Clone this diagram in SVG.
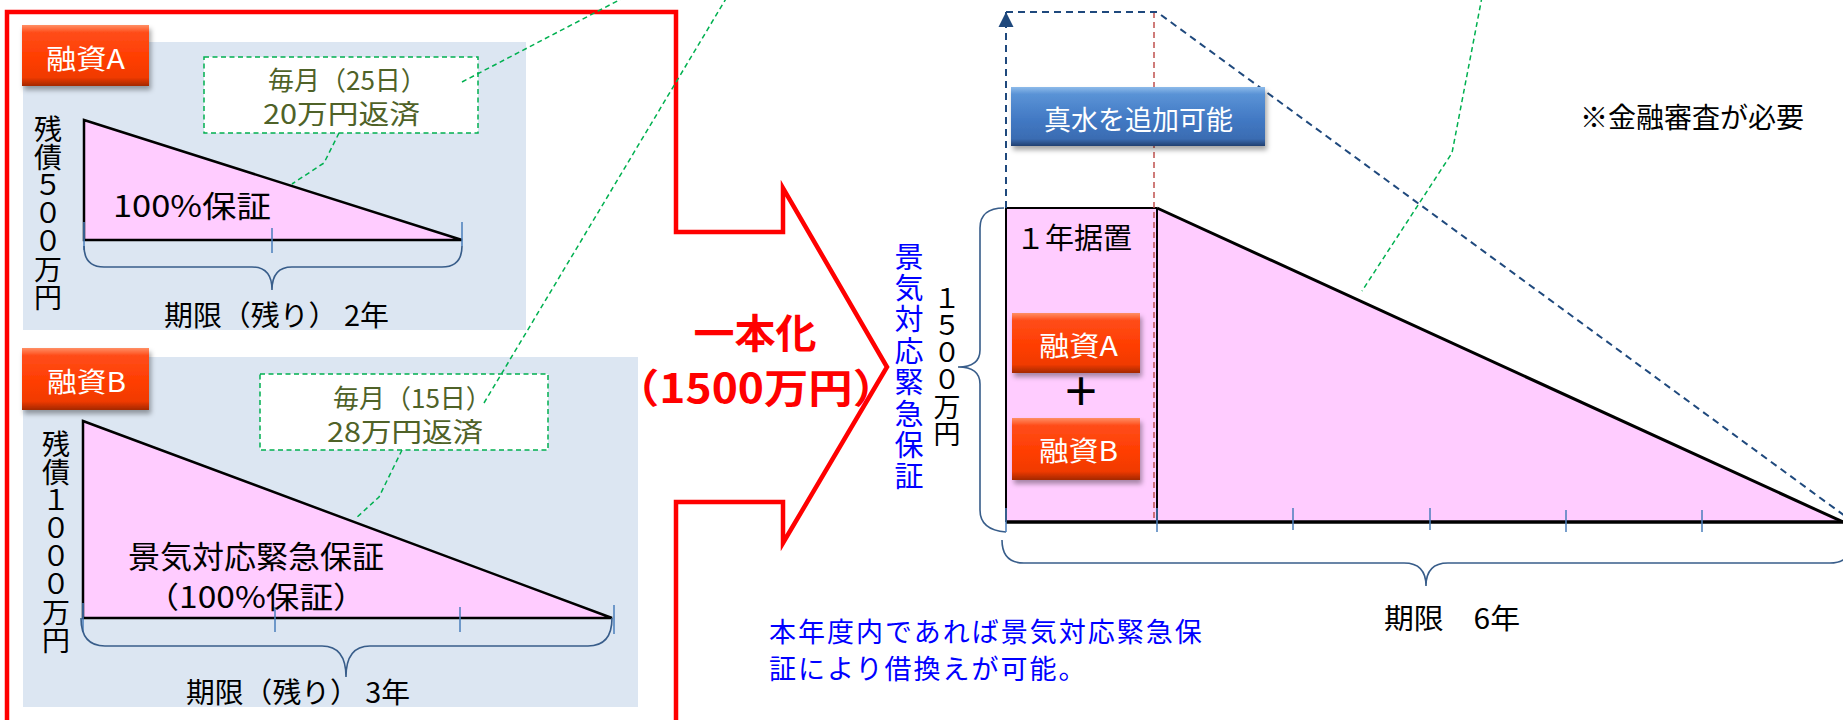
<svg xmlns="http://www.w3.org/2000/svg" width="1843" height="720" viewBox="0 0 1843 720">
<defs>
<linearGradient id="gOrange" x1="0" y1="0" x2="0" y2="1">
<stop offset="0" stop-color="#ff8f66"/>
<stop offset="0.12" stop-color="#ff4d1a"/>
<stop offset="0.55" stop-color="#ff3d00"/>
<stop offset="0.86" stop-color="#f03a00"/>
<stop offset="1" stop-color="#a32800"/>
</linearGradient>
<linearGradient id="gBlue" x1="0" y1="0" x2="0" y2="1">
<stop offset="0" stop-color="#8dbbea"/>
<stop offset="0.12" stop-color="#5a93d6"/>
<stop offset="0.55" stop-color="#4279c4"/>
<stop offset="0.88" stop-color="#3a6cb2"/>
<stop offset="1" stop-color="#213f70"/>
</linearGradient>
<filter id="shadow" x="-10%" y="-15%" width="125%" height="145%">
<feDropShadow dx="2" dy="4" stdDeviation="2.5" flood-color="#000" flood-opacity="0.35"/>
</filter>
<marker id="arrowUp" viewBox="0 0 10 10" refX="10" refY="5" markerWidth="15" markerHeight="16" markerUnits="userSpaceOnUse" orient="auto">
<path d="M0,0 L10,5 L0,10 z" fill="#1f497d"/>
</marker>
<style>
.jp{font-family:"Noto Sans CJK JP","Noto Sans CJK SC",sans-serif}
.panel{fill:#dce6f2}
.tri{fill:#ffccff;stroke:#000;stroke-width:2.5;stroke-linejoin:miter}
.tick{stroke:#4a7ebb;stroke-width:1.5}
.brace{fill:none;stroke:#385d8a;stroke-width:1.6}
.gdash{fill:none;stroke:#00b050;stroke-width:1.5;stroke-dasharray:5 3.5}
.memo{fill:#fff;stroke:#00b050;stroke-width:1.5;stroke-dasharray:5 3.5}
.memot{fill:#4f6228;font-size:26px}
.orange{fill:url(#gOrange);filter:url(#shadow)}
.bluebox{fill:url(#gBlue);filter:url(#shadow)}
.wt{fill:#fff;font-size:27px}
.blk{fill:#000}
.vt{writing-mode:vertical-rl;text-orientation:upright}
.bdash{fill:none;stroke:#1f497d;stroke-width:2;stroke-dasharray:7 5}
.rdash{fill:none;stroke:#c0504d;stroke-width:1.5;stroke-dasharray:6 4}
.line{fill:none;stroke:#000}
</style>
</defs>

<rect width="1843" height="720" fill="#fff"/>

<g id="merge-outline">
<path d="M7,12 H676 V232 H783 V188 L887,367 L783,543 V502 H676 V723 H7 Z" fill="none" stroke="#ff0000" stroke-width="4.5" stroke-linejoin="miter"/>
<text class="jp" text-anchor="middle" font-weight="bold" fill="#ff0000"><tspan x="755" y="348" font-size="40" textLength="123" lengthAdjust="spacingAndGlyphs">一本化</tspan><tspan x="756" y="403" font-size="40" textLength="282" lengthAdjust="spacingAndGlyphs">（1500万円）</tspan></text>
</g>

<g id="loanA-panel">
<rect class="panel" x="23" y="42" width="503" height="288"/>
<polygon class="tri" points="84,120 462,240 84,240"/>
<line class="tick" x1="84" y1="222" x2="84" y2="250"/>
<line class="tick" x1="272" y1="228" x2="272" y2="253"/>
<line class="tick" x1="462" y1="222" x2="462" y2="246"/>
<path class="brace" d="M84,246 Q84,267 104,267 H252 Q272,267 272,290 Q272,267 292,267 H442 Q462,267 462,246"/>
<text class="jp blk" x="113" y="217" font-size="30" textLength="158" lengthAdjust="spacingAndGlyphs">100%保証</text>
<text class="jp blk" x="164" y="326" font-size="28" textLength="225" lengthAdjust="spacingAndGlyphs">期限（残り） 2年</text>
<text class="jp blk vt" x="48" y="115" font-size="28">残債５００万円</text>
</g>

<g id="loanA-label">
<rect class="orange" x="22" y="25" width="127" height="61"/>
<text class="jp wt" x="46" y="69" textLength="79" lengthAdjust="spacingAndGlyphs">融資A</text>
</g>

<g id="loanA-memo">
<rect class="memo" x="204" y="57" width="274" height="76"/>
<text class="jp memot"><tspan x="268" y="90">毎月（25日）</tspan><tspan x="263" y="124" font-size="27" textLength="157" lengthAdjust="spacingAndGlyphs">20万円返済</tspan></text>
</g>

<g id="loanB-panel">
<rect class="panel" x="23" y="357" width="615" height="350"/>
<polygon class="tri" points="83,421 612,618 83,618"/>
<line class="tick" x1="83" y1="603" x2="83" y2="632"/>
<line class="tick" x1="275" y1="607" x2="275" y2="632"/>
<line class="tick" x1="460" y1="607" x2="460" y2="632"/>
<line class="tick" x1="614" y1="605" x2="614" y2="634"/>
<path class="brace" d="M81,618 Q81,646 105,646 H322 Q346,646 346,677 Q346,646 370,646 H588 Q612,646 612,618"/>
<text class="jp blk"><tspan x="128" y="568" font-size="31" textLength="256" lengthAdjust="spacingAndGlyphs">景気対応緊急保証</tspan><tspan x="256" y="608" text-anchor="middle" font-size="30" textLength="221" lengthAdjust="spacingAndGlyphs">（100%保証）</tspan></text>
<text class="jp blk" x="186" y="703" font-size="28" textLength="224" lengthAdjust="spacingAndGlyphs">期限（残り） 3年</text>
<text class="jp blk vt" x="56" y="430" font-size="28">残債１０００万円</text>
</g>

<g id="loanB-label">
<rect class="orange" x="22" y="348" width="127" height="62"/>
<text class="jp wt" x="47" y="392" textLength="79" lengthAdjust="spacingAndGlyphs">融資B</text>
</g>

<g id="loanB-memo">
<rect class="memo" x="260" y="374" width="288" height="76"/>
<text class="jp memot"><tspan x="333" y="408">毎月（15日）</tspan><tspan x="327" y="442" font-size="27" textLength="156" lengthAdjust="spacingAndGlyphs">28万円返済</tspan></text>
</g>

<g id="new-loan-labels">
<text class="jp vt" x="909" y="242" font-size="29" letter-spacing="2.4" fill="#0000ff">景気対応緊急保証</text>
<text class="jp blk vt" x="947" y="285" font-size="27">１５００万円</text>
<path class="brace" d="M1004,208 Q980,208 980,228 V350 Q980,367 958,367 Q980,367 980,384 V510 Q980,530 1006,532"/>
</g>

<g id="new-loan-chart">
<polygon points="1006,208 1157,208 1843,522 1006,522" fill="#ffccff"/>
<path class="line" stroke-width="2" d="M1006,522 V208 H1157"/>
<path class="line" stroke-width="3" d="M1157,208 L1843,522"/>
<path class="line" stroke-width="3.5" d="M1006,522 H1843"/>
<path class="rdash" d="M1154,12 V522"/>
<path class="line" stroke-width="2" d="M1157,208 V522"/>
<line class="tick" x1="1006" y1="508" x2="1006" y2="532"/>
<line class="tick" x1="1157" y1="508" x2="1157" y2="532"/>
<line class="tick" x1="1293" y1="508" x2="1293" y2="530"/>
<line class="tick" x1="1430" y1="508" x2="1430" y2="530"/>
<line class="tick" x1="1566" y1="510" x2="1566" y2="532"/>
<line class="tick" x1="1702" y1="510" x2="1702" y2="532"/>
<path class="brace" d="M1002,540 Q1002,563 1024,563 H1404 Q1426,563 1426,586 Q1426,563 1448,563 H1830 Q1852,563 1852,540"/>
<text class="jp blk" x="1016" y="249" font-size="29">１年据置</text>
<text class="jp blk" x="1384" y="629" font-size="28" textLength="136" lengthAdjust="spacingAndGlyphs">期限　6年</text>
</g>

<g id="new-loanA">
<rect class="orange" x="1012" y="313" width="128" height="60"/>
<text class="jp wt" x="1039" y="356" textLength="79" lengthAdjust="spacingAndGlyphs">融資A</text>
</g>
<g id="plus">
<text class="jp blk" x="1081" y="405" text-anchor="middle" font-size="38" font-weight="bold">＋</text>
</g>
<g id="new-loanB">
<rect class="orange" x="1012" y="418" width="128" height="62"/>
<text class="jp wt" x="1039" y="461" textLength="79" lengthAdjust="spacingAndGlyphs">融資B</text>
</g>

<g id="connectors">
<path class="bdash" d="M1006,208 V12" marker-end="url(#arrowUp)"/>
<path class="bdash" d="M1006,12 H1157 L1860,527"/>
<path class="gdash" d="M462,82 L625,-3"/>
<path class="gdash" d="M339,133 L324,163 L292,184"/>
<path class="gdash" d="M484,403 L727,-3"/>
<path class="gdash" d="M402,450 L379,497 L355,519"/>
<path class="gdash" d="M1482,-3 L1452,153 L1362,291"/>
</g>

<g id="add-funds">
<rect class="bluebox" x="1011" y="87" width="254" height="59"/>
<text class="jp wt" x="1044" y="130">真水を追加可能</text>
</g>

<g id="notes">
<text class="jp blk" x="1580" y="128" font-size="28">※金融審査が必要</text>
<text class="jp" font-size="27" letter-spacing="2" fill="#0000ff"><tspan x="769" y="642">本年度内であれば景気対応緊急保</tspan><tspan x="769" y="679">証により借換えが可能。</tspan></text>
</g>
</svg>
